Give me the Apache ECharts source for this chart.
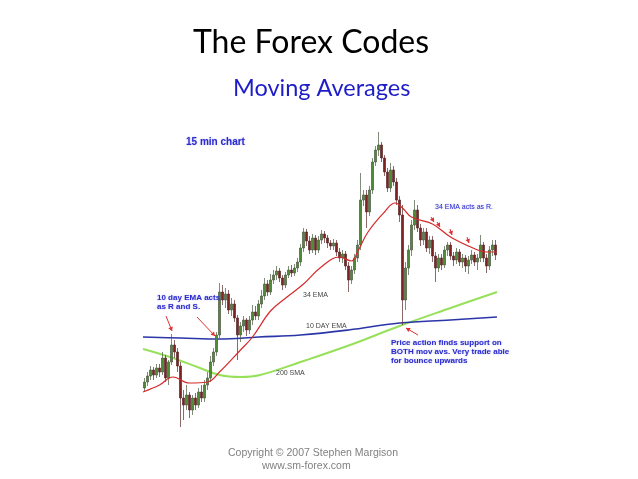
<!DOCTYPE html>
<html>
<head>
<meta charset="utf-8">
<script src="https://cdn.jsdelivr.net/npm/echarts@6/dist/echarts.min.js"></script>
<style>
html,body{margin:0;padding:0;background:#fff;}
#c{width:638px;height:479px;}
</style>
</head>
<body>
<div id="c"></div>
<script>
// 15-min candles: [open, close, low, high] (price in pips)
const candles = [
[52,58,48,62],[58,64,54,68],[64,70,60,74],[70,65,60,73],[65,72,62,76],[72,68,63,76],
[68,82,65,88],[82,62,58,85],[62,78,55,80],[78,95,75,106],[95,88,82,100],[88,74,68,92],
[74,42,13,78],[42,35,20,50],[35,45,30,55],[45,30,22,48],[30,42,25,45],[42,35,30,47],
[35,48,32,52],[48,42,38,55],[42,55,38,60],[55,62,50,68],[62,78,58,84],[78,88,74,92],
[88,105,84,108],[105,148,102,157],[148,140,135,155],[140,146,132,152],[146,130,126,150],[130,136,124,142],
[136,122,118,140],[122,105,80,125],[105,114,98,118],[114,120,108,124],[120,110,104,122],[110,120,106,124],
[120,128,115,135],[128,124,120,134],[124,136,120,140],[136,144,132,150],[144,156,140,162],[156,148,144,160],
[148,160,145,166],[160,165,156,170],[165,169,160,174],[169,162,158,172],[162,155,150,165],[155,165,152,168],
[165,170,162,174],[170,167,163,175],[167,172,164,176],[172,178,168,182],[178,192,174,196],[192,208,188,212],
[208,199,194,211],[199,190,186,204],[190,202,187,206],[202,190,185,205],[190,200,187,204],[200,206,196,210],
[206,202,197,209],[202,197,192,205],[197,194,190,200],[194,197,190,201],[197,188,184,200],[188,182,178,192],
[182,186,177,190],[186,174,170,189],[174,160,148,178],[160,170,156,174],[170,182,166,186],[182,195,178,200],
[195,240,190,267],[240,245,234,250],[245,228,212,250],[228,250,224,254],[250,278,246,282],[278,290,274,294],
[290,295,284,308],[295,282,278,298],[282,268,264,285],[268,252,248,272],[252,270,248,277],[270,258,254,274],
[258,240,235,262],[240,225,218,244],[225,140,115,235],[140,172,130,178],[172,190,165,195],[190,215,184,220],
[215,230,210,240],[230,212,208,235],[212,200,194,216],[200,208,195,212],[208,192,188,212],[192,200,186,204],
[200,184,178,204],[184,172,158,188],[172,182,168,186],[182,175,170,186],[175,190,172,194],[190,195,184,198],
[195,184,180,198],[184,180,174,188],[180,188,176,192],[188,178,174,191],[178,182,172,186],[182,174,168,185],
[174,180,166,184],[180,185,176,190],[185,178,174,188],[178,182,170,186],[182,195,178,205],[195,182,178,198],
[182,174,167,186],[174,190,170,194],[190,195,184,200],[195,185,180,200]
];
const categories = candles.map((_, i) => 'bar ' + (i + 1));

// moving averages: [bar position, price]
const ema10 = [[-0.5,103],[12,102],[25,101],[38,103],[52,105],[68,110],[85,117],[102,120],[117.5,123]];
const ema34 = [[-0.5,48],[5,55],[9.5,63],[15,57],[21,58],[25,68],[32,90],[36,103],[42,129],[47.5,143],
  [53,156],[58.5,172],[65,183],[69,179],[71,188],[74.5,208],[80,228],[83.5,237],[86,232],[89,223],
  [96,216],[102,203],[109.5,192],[114,188],[117.5,188]];
const sma200 = [[-0.5,91],[8.5,83],[18.5,72],[25,65],[32,63],[38.5,65],[52,78],[68.5,95],[85,114],[102,132],[117.5,148]];

const blue = '#2b2bd0';
const chart = echarts.init(document.getElementById('c'), null, {renderer: 'canvas'});

function arrow(x1, y1, x2, y2) {
  const a = Math.atan2(y2 - y1, x2 - x1), h = 4;
  return [
    {type:'line', shape:{x1:x1,y1:y1,x2:x2,y2:y2}, style:{stroke:'#e03030', lineWidth:1}, z:20},
    {type:'polygon', shape:{points:[[x2,y2],
      [x2 - h*Math.cos(a) + h*0.6*Math.sin(a), y2 - h*Math.sin(a) - h*0.6*Math.cos(a)],
      [x2 - h*Math.cos(a) - h*0.6*Math.sin(a), y2 - h*Math.sin(a) + h*0.6*Math.cos(a)]]},
      style:{fill:'#e03030'}, z:20}
  ];
}
function txt(x, y, s, opts) {
  return Object.assign({type:'text', left:x, top:y, z:30,
    style: Object.assign({text:s, fill:blue, font:'bold 8px "Liberation Sans", Arial, sans-serif',
      textShadowColor:'rgba(60,60,200,0.35)', textShadowBlur:2, lineHeight:9}, opts || {})});
}

const graphics = [
  {type:'text', left:193, top:27, style:{text:'The Forex Codes', fill:'#000',
    font:'32px Lato, "Open Sans", sans-serif'}},
  {type:'text', left:233, top:76, style:{text:'Moving Averages', fill:'#1c1cc8',
    font:'23.5px Lato, "Open Sans", sans-serif'}},
  txt(186, 137, '15 min chart', {font:'bold 10px "Liberation Sans", Arial, sans-serif'}),
  txt(157, 293, '10 day EMA acts\nas R and S.'),
  txt(435, 203, '34 EMA acts as R.', {font:'7px "Liberation Sans", Arial, sans-serif'}),
  txt(391, 338, 'Price action finds support on\nBOTH mov avs. Very trade able\nfor bounce upwards'),
  txt(303, 291, '34 EMA', {fill:'#444', font:'7px "Liberation Sans", Arial, sans-serif', textShadowBlur:0}),
  txt(306, 322, '10 DAY EMA', {fill:'#444', font:'7px "Liberation Sans", Arial, sans-serif', textShadowBlur:0}),
  txt(276, 369, '200 SMA', {fill:'#444', font:'7px "Liberation Sans", Arial, sans-serif', textShadowBlur:0}),
  {type:'text', left:228, top:448, style:{text:'Copyright \u00a9 2007 Stephen Margison', fill:'#808080',
    font:'10.5px "Liberation Sans", Arial, sans-serif'}},
  {type:'text', left:262, top:461, style:{text:'www.sm-forex.com', fill:'#808080',
    font:'10.5px "Liberation Sans", Arial, sans-serif'}}
].concat(
  arrow(166, 316, 172, 331),
  arrow(197, 317, 215, 336),
  arrow(418, 335, 406, 328),
  arrow(431, 217, 434, 222),
  arrow(437, 222, 440, 227),
  arrow(450, 229, 452, 235),
  arrow(467, 237, 469, 243)
);

chart.setOption({
  animation: false,
  backgroundColor: '#fff',
  grid: {left: 143, width: 354, top: 130, height: 300},
  xAxis: [
    {type:'category', data: categories, show:false},
    {type:'value', min:-0.5, max:117.5, show:false}
  ],
  yAxis: {type:'value', min:10, max:310, show:false, scale:true},
  graphic: graphics,
  series: [
    {type:'line', name:'200 SMA', xAxisIndex:1, data: sma200, smooth:0.4, symbol:'none',
      lineStyle:{color:'#96e05a', width:2}, z:2},
    {type:'line', name:'10 day EMA', xAxisIndex:1, data: ema10, smooth:0.4, symbol:'none',
      lineStyle:{color:'#2a35a8', width:1.6}, z:2},
    {type:'candlestick', name:'15 min', data: candles, barWidth: 2.5,
      itemStyle:{color:'#4f8a34', color0:'#7e2222', borderColor:'#4a5a40', borderColor0:'#5a2a2a', borderWidth:0.7},
      z:3},
    {type:'line', name:'34 EMA', xAxisIndex:1, data: ema34, smooth:0.4, symbol:'none',
      lineStyle:{color:'#d42a2a', width:1.2}, z:4}
  ]
});
</script>
</body>
</html>
